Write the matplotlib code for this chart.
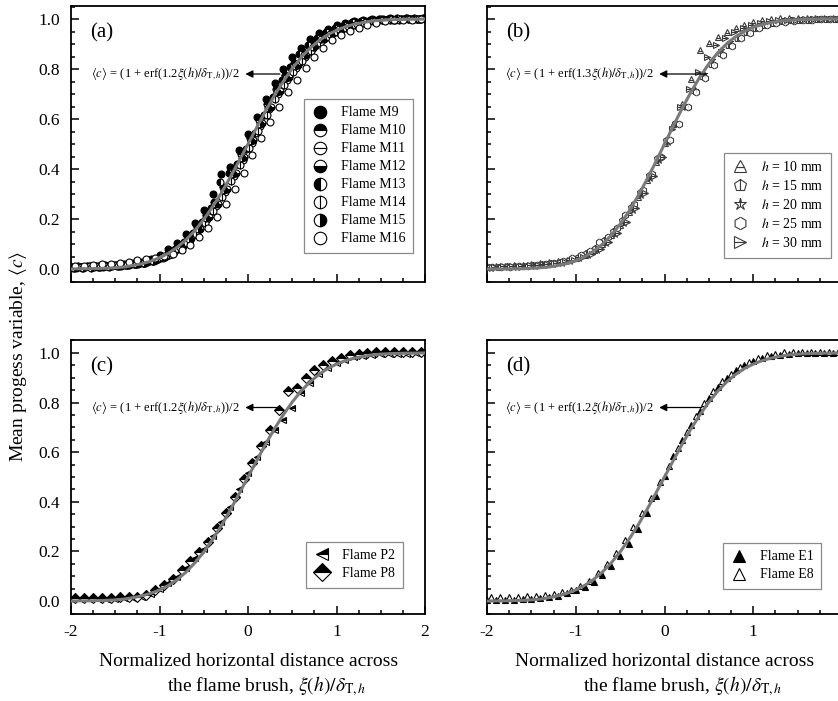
import numpy as np
import matplotlib
matplotlib.use("Agg")
import matplotlib.pyplot as plt
from matplotlib.ticker import MultipleLocator, FormatStrFormatter, FixedFormatter, FixedLocator

plt.rcParams['font.family'] = ['Liberation Serif', 'DejaVu Serif']
plt.rcParams['mathtext.fontset'] = 'stix'
plt.rcParams['axes.unicode_minus'] = False

# ---------------- data ----------------
X41 = np.round(np.arange(41) * 0.1 - 2.0, 3)

FIT12 = [0.000, 0.001, 0.001, 0.002, 0.003, 0.005, 0.008, 0.014, 0.021, 0.031, 0.045, 0.063, 0.087, 0.117,
         0.154, 0.198, 0.249, 0.305, 0.367, 0.433, 0.500, 0.567, 0.633, 0.695, 0.751, 0.802, 0.846, 0.883,
         0.913, 0.937, 0.955, 0.969, 0.979, 0.986, 0.992, 0.995, 0.997, 0.998, 0.999, 0.999, 1.000]
FIT13 = [0.000, 0.000, 0.000, 0.001, 0.001, 0.003, 0.005, 0.008, 0.014, 0.022, 0.033, 0.049, 0.071, 0.099,
         0.135, 0.179, 0.231, 0.291, 0.357, 0.427, 0.500, 0.573, 0.643, 0.709, 0.769, 0.821, 0.865, 0.901,
         0.929, 0.951, 0.967, 0.978, 0.986, 0.992, 0.995, 0.997, 0.999, 0.999, 1.000, 1.000, 1.000]

X_TICKS = [-2, -1, 0, 1, 2]
X_TICKLABELS = ['-2', '-1', '0', '1', '2']

# panel (a)
a_labels = ['Flame M9', 'Flame M10', 'Flame M11', 'Flame M12', 'Flame M13', 'Flame M14', 'Flame M15', 'Flame M16']
a_shift = [0.00, 0.02, 0.04, 0.06, 0.08, 0.01, 0.03, 0.05]
M9 = [0.010, 0.008, 0.012, 0.010, 0.014, 0.015, 0.020, 0.025, 0.030, 0.040, 0.055, 0.080, 0.105, 0.140,
      0.185, 0.235, 0.300, 0.380, 0.410, 0.475, 0.540, 0.610, 0.680, 0.745, 0.800, 0.850, 0.885, 0.920,
      0.945, 0.960, 0.975, 0.985, 0.992, 0.997, 1.000, 1.002, 1.003, 1.002, 1.003, 1.002, 1.003]
M10 = [0.005, 0.006, 0.008, 0.009, 0.011, 0.013, 0.016, 0.020, 0.026, 0.036, 0.050, 0.070, 0.095, 0.128,
       0.168, 0.215, 0.270, 0.330, 0.395, 0.460, 0.525, 0.595, 0.660, 0.720, 0.775, 0.825, 0.868, 0.902,
       0.930, 0.952, 0.968, 0.980, 0.988, 0.994, 0.998, 1.000, 1.001, 1.002, 1.002, 1.002, 1.002]
M11 = [0.008, 0.009, 0.010, 0.011, 0.012, 0.014, 0.016, 0.019, 0.024, 0.032, 0.045, 0.062, 0.086, 0.117,
       0.155, 0.200, 0.252, 0.310, 0.372, 0.438, 0.505, 0.572, 0.640, 0.700, 0.755, 0.805, 0.848, 0.884,
       0.915, 0.938, 0.956, 0.970, 0.980, 0.988, 0.993, 0.996, 0.998, 0.999, 0.999, 1.000, 1.000]
M12 = [0.006, 0.007, 0.008, 0.010, 0.012, 0.014, 0.017, 0.021, 0.027, 0.036, 0.049, 0.067, 0.092, 0.124,
       0.162, 0.208, 0.262, 0.322, 0.385, 0.450, 0.515, 0.583, 0.650, 0.712, 0.768, 0.816, 0.858, 0.893,
       0.921, 0.944, 0.961, 0.974, 0.983, 0.990, 0.994, 0.997, 0.998, 0.999, 1.000, 1.000, 1.000]
M13 = [0.012, 0.012, 0.013, 0.015, 0.016, 0.018, 0.021, 0.026, 0.032, 0.042, 0.058, 0.082, 0.110, 0.145,
       0.190, 0.245, 0.350, 0.385, 0.420, 0.480, 0.545, 0.615, 0.690, 0.755, 0.810, 0.860, 0.895, 0.925,
       0.948, 0.965, 0.978, 0.987, 0.993, 0.997, 1.000, 1.002, 1.003, 1.004, 1.004, 1.004, 1.004]
M14 = [0.010, 0.010, 0.011, 0.012, 0.013, 0.015, 0.018, 0.022, 0.026, 0.033, 0.043, 0.058, 0.079, 0.106,
       0.141, 0.183, 0.233, 0.290, 0.352, 0.418, 0.485, 0.552, 0.618, 0.680, 0.737, 0.788, 0.833, 0.871,
       0.903, 0.928, 0.948, 0.964, 0.976, 0.985, 0.991, 0.995, 0.997, 0.998, 0.999, 1.000, 1.000]
M15 = [0.004, 0.005, 0.006, 0.008, 0.010, 0.012, 0.015, 0.019, 0.025, 0.034, 0.047, 0.066, 0.090, 0.121,
       0.160, 0.206, 0.259, 0.318, 0.380, 0.445, 0.512, 0.580, 0.646, 0.708, 0.763, 0.812, 0.855, 0.890,
       0.919, 0.941, 0.959, 0.972, 0.982, 0.989, 0.994, 0.997, 0.999, 1.000, 1.001, 1.001, 1.001]
M16 = [0.012, 0.014, 0.016, 0.019, 0.022, 0.026, 0.030, 0.035, 0.040, 0.046, 0.052, 0.060, 0.075, 0.098,
       0.128, 0.165, 0.210, 0.262, 0.320, 0.385, 0.455, 0.525, 0.590, 0.650, 0.708, 0.758, 0.805, 0.848,
       0.885, 0.915, 0.935, 0.952, 0.966, 0.978, 0.986, 0.992, 0.995, 0.997, 0.998, 0.999, 0.999]
a_series = [M9, M10, M11, M12, M13, M14, M15, M16]

# panel (b)
b_labels = [r'$h$ = 10 mm', r'$h$ = 15 mm', r'$h$ = 20 mm', r'$h$ = 25 mm', r'$h$ = 30 mm']
b_shift = [0.00, 0.02, 0.04, 0.06, 0.08]
H10 = [0.012, 0.013, 0.014, 0.015, 0.017, 0.020, 0.023, 0.027, 0.032, 0.038, 0.045, 0.057, 0.075, 0.100,
       0.135, 0.178, 0.230, 0.290, 0.358, 0.430, 0.505, 0.580, 0.660, 0.760, 0.875, 0.905, 0.928, 0.948,
       0.965, 0.978, 0.988, 0.995, 1.000, 1.004, 1.005, 1.006, 1.006, 1.006, 1.006, 1.006, 1.006]
H15 = [0.010, 0.010, 0.011, 0.012, 0.014, 0.016, 0.019, 0.023, 0.029, 0.037, 0.048, 0.063, 0.085, 0.115,
       0.152, 0.198, 0.250, 0.310, 0.375, 0.445, 0.515, 0.585, 0.652, 0.715, 0.772, 0.822, 0.864, 0.898,
       0.926, 0.948, 0.964, 0.976, 0.985, 0.991, 0.995, 0.997, 0.998, 0.999, 0.999, 1.000, 1.000]
H20 = [0.006, 0.007, 0.008, 0.010, 0.012, 0.014, 0.017, 0.021, 0.026, 0.033, 0.043, 0.057, 0.078, 0.106,
       0.142, 0.186, 0.238, 0.298, 0.365, 0.436, 0.508, 0.580, 0.650, 0.718, 0.782, 0.835, 0.875, 0.908,
       0.934, 0.954, 0.969, 0.980, 0.988, 0.993, 0.996, 0.998, 0.999, 1.000, 1.000, 1.000, 1.000]
H25 = [0.008, 0.009, 0.010, 0.012, 0.014, 0.017, 0.021, 0.026, 0.033, 0.043, 0.056, 0.074, 0.110, 0.130,
       0.165, 0.215, 0.262, 0.318, 0.380, 0.448, 0.515, 0.582, 0.648, 0.708, 0.764, 0.815, 0.858, 0.894,
       0.923, 0.946, 0.963, 0.975, 0.984, 0.990, 0.994, 0.997, 0.998, 0.999, 0.999, 1.000, 1.000]
H30 = [0.010, 0.011, 0.012, 0.013, 0.015, 0.018, 0.021, 0.025, 0.030, 0.037, 0.047, 0.060, 0.080, 0.108,
       0.145, 0.190, 0.245, 0.305, 0.372, 0.450, 0.560, 0.650, 0.720, 0.790, 0.850, 0.895, 0.925, 0.948,
       0.965, 0.977, 0.985, 0.991, 0.995, 0.997, 0.998, 0.999, 1.000, 1.000, 1.000, 1.000, 1.000]
b_series = [H10, H15, H20, H25, H30]

# panel (c)
c_labels = ['Flame P2', 'Flame P8']
c_shift = [0.00, 0.05]
P2 = [0.008, 0.008, 0.008, 0.009, 0.009, 0.010, 0.011, 0.013, 0.017, 0.028, 0.050, 0.072, 0.098, 0.135,
      0.172, 0.210, 0.262, 0.318, 0.380, 0.450, 0.515, 0.580, 0.640, 0.690, 0.730, 0.780, 0.840, 0.880,
      0.915, 0.940, 0.958, 0.972, 0.982, 0.988, 0.992, 0.995, 0.996, 0.997, 0.997, 0.998, 0.998]
P8 = [0.012, 0.012, 0.013, 0.013, 0.014, 0.015, 0.016, 0.018, 0.025, 0.045, 0.065, 0.090, 0.125, 0.160,
      0.198, 0.240, 0.295, 0.355, 0.420, 0.490, 0.555, 0.625, 0.690, 0.770, 0.845, 0.860, 0.900, 0.930,
      0.950, 0.968, 0.980, 0.990, 0.996, 1.000, 1.003, 1.004, 1.005, 1.005, 1.005, 1.005, 1.005]
c_series = [P2, P8]

# panel (d)
d_labels = ['Flame E1', 'Flame E8']
d_shift = [0.00, 0.05]
E1 = [0.003, 0.004, 0.005, 0.006, 0.007, 0.009, 0.012, 0.016, 0.022, 0.033, 0.045, 0.058, 0.078, 0.105,
      0.140, 0.180, 0.230, 0.290, 0.355, 0.425, 0.505, 0.585, 0.650, 0.710, 0.765, 0.820, 0.862, 0.900,
      0.930, 0.952, 0.968, 0.980, 0.988, 0.993, 0.996, 0.998, 1.000, 1.000, 1.001, 1.001, 1.001]
E8 = [0.015, 0.016, 0.017, 0.018, 0.020, 0.022, 0.025, 0.030, 0.036, 0.045, 0.060, 0.082, 0.112, 0.150,
      0.195, 0.245, 0.300, 0.355, 0.415, 0.480, 0.545, 0.615, 0.680, 0.745, 0.800, 0.848, 0.885, 0.915,
      0.942, 0.962, 0.978, 0.990, 0.997, 1.002, 1.004, 1.005, 1.005, 1.005, 1.005, 1.005, 1.005]
d_series = [E1, E8]

FORMULA12 = r'$\langle c\rangle$ = (1 + erf(1.2$\xi(h)/\delta_{\mathrm{T},h}$))/2'
FORMULA13 = r'$\langle c\rangle$ = (1 + erf(1.3$\xi(h)/\delta_{\mathrm{T},h}$))/2'

# ---------------- styles ----------------
a_styles = [dict(marker='o', fillstyle='full', markerfacecolor='black'),
            dict(marker='o', fillstyle='top', markerfacecolor='black', markerfacecoloralt='white'),
            dict(marker='o', fillstyle='top', markerfacecolor='white', markerfacecoloralt='white'),
            dict(marker='o', fillstyle='bottom', markerfacecolor='black', markerfacecoloralt='white'),
            dict(marker='o', fillstyle='left', markerfacecolor='black', markerfacecoloralt='white'),
            dict(marker='o', fillstyle='left', markerfacecolor='white', markerfacecoloralt='white'),
            dict(marker='o', fillstyle='right', markerfacecolor='black', markerfacecoloralt='white'),
            dict(marker='o', fillstyle='full', markerfacecolor='white')]
b_styles = [dict(marker='^', fillstyle='bottom', markerfacecolor='white', markerfacecoloralt='white'),
            dict(marker='p', fillstyle='left', markerfacecolor='white', markerfacecoloralt='white'),
            dict(marker='*', fillstyle='left', markerfacecolor='white', markerfacecoloralt='white'),
            dict(marker='h', fillstyle='left', markerfacecolor='white', markerfacecoloralt='white'),
            dict(marker='>', fillstyle='top', markerfacecolor='white', markerfacecoloralt='white')]
c_styles = [dict(marker='<', fillstyle='top', markerfacecolor='black', markerfacecoloralt='white'),
            dict(marker='D', fillstyle='top', markerfacecolor='black', markerfacecoloralt='white')]
d_styles = [dict(marker='^', fillstyle='full', markerfacecolor='black'),
            dict(marker='^', fillstyle='full', markerfacecolor='white')]

W, H = 838, 701
fig = plt.figure(figsize=(W / 100, H / 100), dpi=100)


def px_axes(l, t, r, b):
    return fig.add_axes([l / W, 1 - b / H, (r - l) / W, (b - t) / H])


ax_a = px_axes(71, 6, 425, 282)
ax_b = px_axes(487, 6, 842, 282)
ax_c = px_axes(71, 340, 425, 614)
ax_d = px_axes(487, 340, 842, 614)

panels = [
    (ax_a, '(a)', a_series, a_shift, a_labels, a_styles, FIT12, FORMULA12, 'black', (0.966, 0.105), (-0.03, 0.36)),
    (ax_b, '(b)', b_series, b_shift, b_labels, b_styles, FIT13, FORMULA13, '#3a3a3a', (0.969, 0.087), (-0.06, 0.47)),
    (ax_c, '(c)', c_series, c_shift, c_labels, c_styles, FIT12, FORMULA12, 'black', (0.938, 0.095), (-0.03, 0.36)),
    (ax_d, '(d)', d_series, d_shift, d_labels, d_styles, FIT12, FORMULA12, 'black', (0.941, 0.091), (-0.06, 0.42)),
]

for idx, (ax, tag, series, shifts, labels, styles, fit, formula, ec, legpos, arr) in enumerate(panels):
    handles = []
    for ys, sh, lab, st in zip(series, shifts, labels, styles):
        h, = ax.plot(X41 + sh, ys, linestyle='none', markersize=5, markeredgecolor=ec,
                     markeredgewidth=0.8, label=lab, zorder=2, **st)
        handles.append(h)
    ax.plot(X41, fit, color='#7a7a7a', lw=2.2, zorder=3)
    ax.set_xlim(-2, 2)
    ax.set_ylim(-0.052, 1.052)
    ax.xaxis.set_major_locator(FixedLocator(X_TICKS))
    labs = list(X_TICKLABELS)
    if idx == 3:
        labs[-1] = ''   # last label falls outside the cropped figure
    ax.xaxis.set_major_formatter(FixedFormatter(labs))
    ax.xaxis.set_minor_locator(MultipleLocator(0.25))
    ax.yaxis.set_major_locator(MultipleLocator(0.2))
    ax.yaxis.set_minor_locator(MultipleLocator(0.05))
    ax.yaxis.set_major_formatter(FormatStrFormatter('%.1f'))
    ax.tick_params(which='both', direction='in', top=False, right=False, labelsize=12.5, width=1.1)
    ax.tick_params(which='major', length=6)
    ax.tick_params(which='minor', length=3)
    ax.tick_params(axis='y', pad=8)
    ax.tick_params(axis='x', pad=7)
    for sp in ax.spines.values():
        sp.set_linewidth(1.3)
    if idx in (1, 3):
        ax.tick_params(axis='y', labelleft=False)
    if idx in (0, 1):
        ax.tick_params(axis='x', labelbottom=False)
    ax.text(-1.78, 0.945, tag, fontsize=15, ha='left', va='center')
    ax.annotate('', xy=(arr[0], 0.78), xytext=(arr[1], 0.78),
                arrowprops=dict(arrowstyle='-|>', color='black', lw=0.9, mutation_scale=11,
                                shrinkA=0, shrinkB=0), zorder=4)
    ax.text(arr[0] - 0.06, 0.78, formula, fontsize=9, ha='right', va='center')
    leg = ax.legend(handles=handles, loc='lower right', bbox_to_anchor=legpos, borderaxespad=0,
                    fontsize=10, frameon=True, fancybox=False, framealpha=1, edgecolor='#8a8a8a',
                    markerscale=1.8, handlelength=1.2, handletextpad=0.9, labelspacing=0.36,
                    borderpad=0.55)
    leg.get_frame().set_linewidth(0.9)

fig.text(18 / W, 1 - 356 / H, r'Mean progess variable, $\langle c\rangle$', rotation=90,
         ha='center', va='center', fontsize=14)
for cx1, cx2 in ((248.5, 267), (664.5, 682.5)):
    fig.text(cx1 / W, 1 - 662 / H, 'Normalized horizontal distance across', ha='center', va='center', fontsize=14)
    fig.text(cx2 / W, 1 - 686 / H, r'the flame brush, $\xi(h)/\delta_{\mathrm{T},h}$', ha='center',
             va='center', fontsize=14)

fig.savefig('out.png', dpi=100)
